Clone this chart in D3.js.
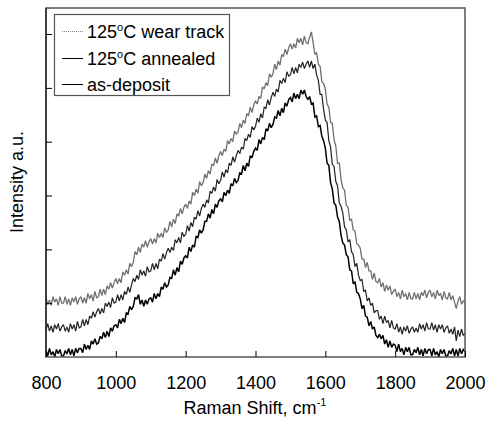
<!DOCTYPE html>
<html><head><meta charset="utf-8">
<script src="https://cdn.jsdelivr.net/npm/d3@7"></script>
<style>body{margin:0;background:#fff} text{font-family:"Liberation Sans",Arial,sans-serif}</style>
</head><body><svg id="c" width="487" height="422"></svg>
<script>
// Raman shift sampling (cm^-1)
const shiftStart = 800, shiftEnd = 2000, shiftStep = 5;
// Intensity (a.u.), one value every 5 cm^-1
const wearTrack = [
55,49,53,48,56,51,54,48,56,50,
50,56,49,54,48,55,51,56,49,54,
56,50,55,50,59,54,58,52,61,55,
56,63,57,63,58,66,63,69,64,69,
73,68,73,69,79,76,81,77,87,84,
88,98,95,102,97,105,102,108,102,107,
110,105,110,106,115,111,115,111,120,116,
118,126,121,128,124,133,131,138,133,139,
142,138,145,142,153,150,156,152,163,159,
162,170,166,173,170,179,178,185,180,187,
191,187,193,191,201,198,203,200,210,207,
209,217,213,220,217,226,224,232,227,234,
238,235,242,240,251,249,255,252,263,260,
263,272,267,275,271,281,279,286,281,287,
291,286,291,287,296,292,296,290,298,292,
291,297,302,292,281,283,272,270,256,254,
249,235,232,218,217,202,196,180,180,165,
157,155,141,139,127,128,118,117,105,104,
101,91,91,83,88,80,80,72,78,70,
69,73,65,69,61,67,62,66,58,61,
63,56,60,54,62,56,59,53,60,54,
54,60,54,59,53,60,57,62,55,60,
62,56,60,54,62,57,59,53,61,55,
54,60,53,57,51,45,52,56,49,52,
51];
const annealed = [
25,31,24,29,23,30,26,31,24,28,
30,24,28,23,31,26,30,24,33,27,
28,35,29,35,30,38,36,42,37,42,
45,40,45,41,50,47,51,46,55,50,
51,58,52,58,53,61,58,65,60,67,
73,70,76,72,81,76,80,75,84,79,
80,87,81,87,82,91,89,96,91,97,
101,97,102,99,109,106,111,106,116,112,
114,122,117,125,121,130,128,136,131,138,
142,139,146,143,154,152,158,154,165,161,
164,172,167,174,171,180,178,186,181,187,
192,189,195,193,203,201,207,204,214,211,
214,222,218,226,222,232,231,239,234,241,
246,242,249,246,257,254,259,255,265,261,
262,269,263,269,264,272,269,274,268,272,
275,269,275,268,272,262,257,244,244,230,
220,218,201,195,179,177,163,159,143,140,
134,121,118,107,109,98,95,84,87,76,
71,72,61,62,52,55,48,50,41,43,
43,35,38,31,38,32,34,27,34,27,
26,31,23,28,21,28,24,29,22,26,
28,23,27,23,31,26,30,24,32,26,
26,32,25,30,23,30,26,30,23,27,
29,22,26,21,28,15,25,19,26,20,
22];
const asDeposit = [
6,1,8,2,5,0,7,3,7,1,
1,6,3,8,2,7,1,8,4,8,
8,4,12,7,11,7,15,12,17,12,
13,19,17,23,18,24,19,27,24,29,
30,27,35,31,36,32,41,40,47,44,
47,55,54,58,49,53,47,53,49,54,
55,51,59,54,59,56,65,63,69,65,
67,74,73,81,76,83,79,89,86,92,
94,92,102,98,104,102,112,111,118,115,
118,126,126,133,129,137,133,142,139,145,
147,144,153,150,155,152,161,159,166,162,
164,171,170,178,173,180,177,187,185,191,
194,192,202,198,204,202,212,210,217,213,
216,223,222,229,224,231,227,236,233,239,
241,237,245,240,244,240,248,244,248,242,
239,242,235,236,223,224,214,215,205,201,
194,180,178,162,156,143,141,130,126,113,
106,104,95,93,81,80,68,70,60,59,
54,45,48,38,37,29,33,26,28,20,
18,21,17,20,12,16,9,15,9,12,
11,5,12,5,8,2,9,5,9,2,
2,7,4,9,2,7,1,8,3,7,
7,1,8,2,5,0,7,3,7,1,
1,6,3,8,1,7,1,8,3,7,
5];
const seriesNames = ["125°C wear track", "125°C annealed", "as-deposit"];
const xTicks = [800, 1000, 1200, 1400, 1600, 1800, 2000];
const yTicks = [50, 100, 150, 200, 250, 300];
const yMax = 324.2;

const svg = d3.select("#c");
const L = 46, R = 465, T = 8, B = 357;
const x = d3.scaleLinear().domain([shiftStart, shiftEnd]).range([L, R]);
const y = d3.scaleLinear().domain([0, yMax]).range([B, T]);

svg.append("defs").append("clipPath").attr("id", "pa")
  .append("rect").attr("x", L).attr("y", T).attr("width", R - L).attr("height", B - T);

const styles = [
  {stroke: "#707070", width: 1.3},
  {stroke: "#222", width: 1.2},
  {stroke: "#000", width: 1.5}
];
const series = [wearTrack, annealed, asDeposit];
const line = d3.line().x((d, i) => x(shiftStart + i * shiftStep)).y(d => y(d));
const g = svg.append("g").attr("clip-path", "url(#pa)");
series.forEach((s, k) => {
  g.append("path").datum(s).attr("d", line).attr("fill", "none")
    .attr("stroke", styles[k].stroke).attr("stroke-width", styles[k].width)
    .attr("stroke-linejoin", "miter").attr("stroke-miterlimit", 2);
});

// frame
svg.append("rect").attr("x", L).attr("y", T).attr("width", R - L).attr("height", B - T)
  .attr("fill", "none").attr("stroke", "#555").attr("stroke-width", 1.5);
svg.append("line").attr("x1", L).attr("x2", L).attr("y1", T).attr("y2", B)
  .attr("stroke", "#000").attr("stroke-width", 1);

// x axis (ticks inside)
const xAxis = d3.axisBottom(x).tickValues(xTicks).tickSizeInner(-6).tickSizeOuter(0).tickPadding(0).tickFormat(d3.format("d"));
const xg = svg.append("g").attr("transform", `translate(0,${B})`).call(xAxis);
xg.select(".domain").remove();
xg.selectAll(".tick line").attr("stroke", "#000");
xg.selectAll(".tick text").attr("y", 32).attr("dy", null).attr("font-size", 18)
  .attr("font-family", "Liberation Sans, Arial, sans-serif").attr("fill", "#000");

// y axis (ticks inside, no labels)
const yAxis = d3.axisLeft(y).tickValues(yTicks).tickSizeInner(-6).tickSizeOuter(0).tickFormat("");
const yg = svg.append("g").attr("transform", `translate(${L},0)`).call(yAxis);
yg.select(".domain").remove();
yg.selectAll(".tick line").attr("stroke", "#000");

// axis titles
const xt = svg.append("text").attr("x", 255).attr("y", 414).attr("text-anchor", "middle")
  .attr("font-size", 18).attr("fill", "#000");
xt.append("tspan").text("Raman Shift, cm");
xt.append("tspan").attr("font-size", 11).attr("dy", -8).text("-1");
svg.append("text").attr("transform", "translate(23,182) rotate(-90)").attr("text-anchor", "middle")
  .attr("font-size", 18).attr("fill", "#000").text("Intensity a.u.");

// legend
svg.append("rect").attr("x", 54.5).attr("y", 14.5).attr("width", 175).attr("height", 81)
  .attr("fill", "#fff").attr("stroke", "#555").attr("stroke-width", 1.2);
seriesNames.forEach((name, k) => {
  const cy = Math.round(31 + k * 26.5) + 0.5;
  svg.append("line").attr("x1", 62).attr("x2", 83).attr("y1", cy).attr("y2", cy)
    .attr("stroke", k === 0 ? "#888" : "#000").attr("stroke-width", 1)
    .attr("stroke-dasharray", k === 0 ? "1,1" : null);
  const t = svg.append("text").attr("x", 87).attr("y", cy + 6.5).attr("font-size", 18).attr("fill", "#000");
  const parts = name.split("°");
  if (parts.length > 1) {
    t.append("tspan").text(parts[0]);
    t.append("tspan").attr("font-size", 11).attr("dy", -7).text("o");
    t.append("tspan").attr("dy", 7).text(parts[1]);
  } else {
    t.text(name);
  }
});
</script></body></html>
